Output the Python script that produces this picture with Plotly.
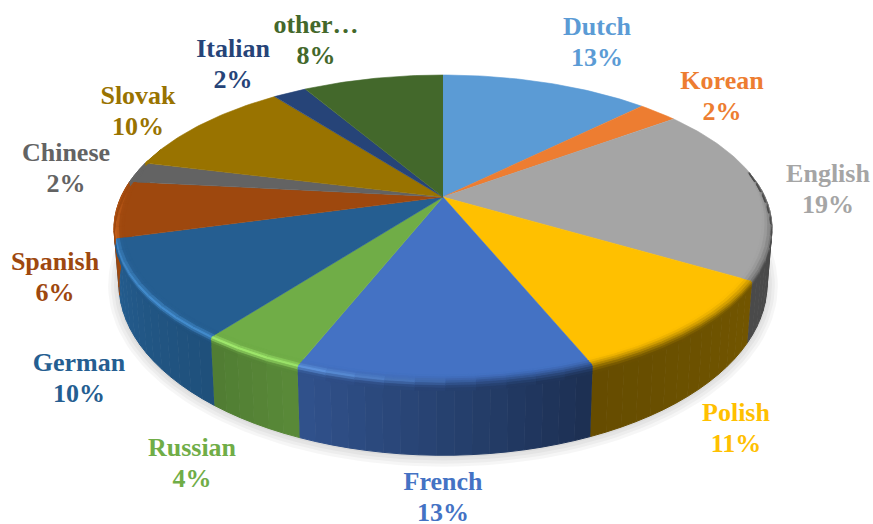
import numpy as np
import plotly.graph_objects as go

# ---- data ----
languages = ["Dutch", "Korean", "English", "Polish", "French", "Russian",
             "German", "Spanish", "Chinese", "Slovak", "Italian", "other…"]
printed_percent = [13, 2, 19, 11, 13, 4, 10, 6, 2, 10, 2, 8]
# slice sizes as drawn (estimated from the rim seams of the picture)
drawn_share = [12.5, 2.36, 18.7, 10.3, 12.1, 4.34, 10.4, 6.0, 2.2, 10.7, 2.0, 8.4]
colors = ["#5B9BD5", "#ED7D31", "#A5A5A5", "#FFC000", "#4472C4", "#70AD47",
          "#255E91", "#9E480E", "#636363", "#997300", "#264478", "#43682B"]

# ---- styling / layout ----
label_x = [597, 722, 828, 736, 443, 192, 79, 55, 66, 138, 233, 316]
label_y = [28, 82, 175, 414, 483, 449, 364, 263, 154, 97, 50, 26]
LINE_GAP = 31
FONT = "Liberation Serif"
CX, CY, R, A, K = 443, 197, 322, 147, 0.205
BOT_SCALE, BOT_D, BOT_A = 0.985, 52, 164


def top_pt(th, rho=1.0):
    r = np.radians(th)
    u, v = rho * np.sin(r), rho * np.cos(r)
    d = 1 + K * v
    return CX + R * u / d, CY - A * v / d


def bot_pt(th):
    r = np.radians(th)
    u, v = np.sin(r), np.cos(r)
    d = 1 + K * v
    return CX + R * BOT_SCALE * u / d, CY + BOT_D - BOT_A * v / d


def side_factor(th):
    return np.interp(th, [85, 120, 157, 158, 201, 202, 217, 218, 255, 285],
                     [.45, .45, .40, .42, .72, .80, .72, .85, 1.0, 1.0])


def highlight(th):
    return np.interp(th, [175, 205, 230, 262, 285], [0, .75, .85, .55, 0])


def hex2rgb(h):
    return np.array([int(h[i:i + 2], 16) for i in (1, 3, 5)], float)


def css(c):
    c = np.clip(c, 0, 255)
    return f"rgb({int(c[0])},{int(c[1])},{int(c[2])})"


def poly(xs, ys, color, lw=1.0):
    fig.add_trace(go.Scatter(x=xs, y=ys, mode="lines", fill="toself", fillcolor=color,
                             line=dict(color=color, width=lw), hoverinfo="skip",
                             showlegend=False))


fig = go.Figure()
ends = np.cumsum(drawn_share) / np.sum(drawn_share) * 360
starts = np.r_[0, ends[:-1]]

# soft shadow
ths = np.linspace(0, 360, 181)
for grow in (11, 8, 5, 2):
    bx, by = bot_pt(ths)
    fx = CX + (bx - CX) * (1 + grow / 330)
    fy = CY + 60 + (by - CY - 60) * (1 + grow / 190)
    fig.add_trace(go.Scatter(x=fx, y=fy, mode="lines", fill="toself",
                             fillcolor="rgba(0,0,0,0.035)", line=dict(width=0),
                             hoverinfo="skip", showlegend=False))

# side wall
for s0, e0, col in zip(starts, ends, colors):
    lo, hi = max(s0, 85), min(e0, 285)
    if hi <= lo:
        continue
    base = hex2rgb(col)
    edges = np.linspace(lo, hi, max(2, int((hi - lo) / 2.5) + 1))
    for a, b in zip(edges[:-1], edges[1:]):
        t = np.array([a, b])
        tx, ty = top_pt(t)
        ux, uy = bot_pt(t[::-1])
        poly(np.r_[tx, ux], np.r_[ty, uy], css(base * side_factor((a + b) / 2)))

# top face
for s0, e0, col in zip(starts, ends, colors):
    t = np.linspace(s0, e0, max(3, int(e0 - s0) + 2))
    x, y = top_pt(t)
    poly(np.r_[CX, x], np.r_[CY, y], col, lw=0.6)


# rim bevel
def rim(th, s):
    w = np.clip((th - 72) / 30, 0, 1) * np.clip((298 - th) / 30, 0, 1)
    if s <= 0:
        return top_pt(th, 1 + s * 0.03 * w)
    tx, ty = top_pt(th)
    ux, uy = bot_pt(th)
    f = s * 0.12 * w
    return tx + (ux - tx) * f, ty + (uy - ty) * f


levels = np.linspace(-1, 1, 8)
for s0, e0, col in zip(starts, ends, colors):
    lo, hi = max(s0, 80), min(e0, 290)
    if hi <= lo:
        continue
    base = hex2rgb(col)
    light = np.clip(base * 1.35 + 25, 0, 255)
    edges = np.linspace(lo, hi, max(2, int((hi - lo) / 4) + 1))
    for a, b in zip(edges[:-1], edges[1:]):
        mid = (a + b) / 2
        side = base * side_factor(mid)
        for s1, s2 in zip(levels[:-1], levels[1:]):
            sm = (s1 + s2) / 2
            mix = (sm + 1) / 2
            mix = mix * mix * (3 - 2 * mix)
            c = base * (1 - mix) + side * mix
            c = c + (light - c) * highlight(mid) * np.exp(-(sm / 0.36) ** 2)
            p = [rim(a, s1), rim(b, s1), rim(b, s2), rim(a, s2)]
            poly([q[0] for q in p], [q[1] for q in p], css(c), lw=0.8)

# labels
fig.add_trace(go.Scatter(x=label_x, y=label_y, mode="text", text=languages,
                         textposition="middle center", hoverinfo="skip", showlegend=False,
                         textfont=dict(family=FONT, size=26, color=colors, weight="bold")))
fig.add_trace(go.Scatter(x=label_x, y=[v + LINE_GAP for v in label_y], mode="text",
                         text=[f"{p}%" for p in printed_percent],
                         textposition="middle center", hoverinfo="skip", showlegend=False,
                         textfont=dict(family=FONT, size=26, color=colors, weight="bold")))

fig.update_layout(width=873, height=524, margin=dict(l=0, r=0, t=0, b=0),
                  paper_bgcolor="white", plot_bgcolor="white",
                  xaxis=dict(range=[0, 873], visible=False, fixedrange=True),
                  yaxis=dict(range=[524, 0], visible=False, fixedrange=True),
                  showlegend=False)
fig.write_html("out.html", config={"displayModeBar": False},
               post_script="document.body.style.margin='0';document.body.style.overflow='hidden';")
